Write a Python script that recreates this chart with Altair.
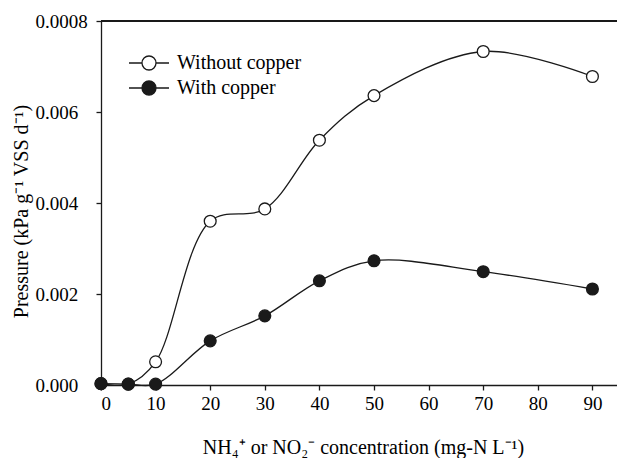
import altair as alt
import pandas as pd

# ---- data ----
x_vals = [0, 5, 10, 20, 30, 40, 50, 70, 90]
without_copper = [0.00003, 0.00002, 0.00051, 0.00360, 0.00387, 0.00538, 0.00636, 0.00733, 0.00678]
with_copper = [0.00003, 0.00002, 0.00002, 0.00097, 0.00152, 0.00229, 0.00273, 0.00249, 0.00211]
series_names = ["Without copper", "With copper"]
series_fill = ["white", "#1a1a1a"]
x_ticks = [0, 10, 20, 30, 40, 50, 60, 70, 80, 90]
y_ticks = [0.0, 0.002, 0.004, 0.006, 0.008]

rows = []
for name, vals in zip(series_names, [without_copper, with_copper]):
    for i, (x, y) in enumerate(zip(x_vals, vals)):
        rows.append({"conc": x, "pressure": y, "series": name, "order": i})
df = pd.DataFrame(rows)

FONT = "Liberation Serif"
W, H = 516, 364

x_enc = alt.X(
    "conc:Q",
    scale=alt.Scale(domain=[0, 94.5], nice=False, zero=False),
    axis=alt.Axis(
        values=x_ticks,
        title="NH\u2084\u207a or NO\u2082\u207b concentration (mg-N L\u207b\u00b9)",
        titlePadding=24,
        titleX=W / 2 + 4,
    ),
)
y_enc = alt.Y(
    "pressure:Q",
    scale=alt.Scale(domain=[0, 0.008], nice=False),
    axis=alt.Axis(
        values=y_ticks,
        labelExpr="datum.value >= 0.0079 ? '0.0008' : format(datum.value, '.3f')",
        labelAlign="left",
        labelPadding=61,
        title="Pressure (kPa g\u207b\u00b9 VSS d\u207b\u00b9)",
        titleX=-70,
        titleY=H / 2 + 8,
    ),
)

legend_path = (
    "M-2.5,0L-0.875,0M0.875,0L2.5,0"
    "M-0.875,0A0.875,0.875,0,1,0,0.875,0A0.875,0.875,0,1,0,-0.875,0Z"
)

lines = alt.Chart(df).mark_line(
    interpolate="catmull-rom", color="#1a1a1a", strokeWidth=1.3
).encode(
    x=x_enc, y=y_enc, detail="series:N", order="order:Q"
)

points = alt.Chart(df).mark_point(
    shape="circle", size=140, stroke="#1a1a1a", strokeWidth=1.3, opacity=1, fillOpacity=1
).encode(
    x="conc:Q",
    y="pressure:Q",
    fill=alt.Fill(
        "series:N",
        scale=alt.Scale(domain=series_names, range=series_fill),
        legend=alt.Legend(
            orient="none",
            legendX=38,
            legendY=32,
            title=None,
            symbolType=legend_path,
            symbolSize=256,
            symbolStrokeColor="#1a1a1a",
            symbolStrokeWidth=1.3,
            labelFont=FONT,
            labelFontSize=20,
            labelColor="black",
            labelOffset=18,
            rowPadding=5,
            padding=0,
        ),
    ),
)

top_border = alt.Chart(df).mark_rule(color="#1a1a1a", strokeWidth=1.3).encode(
    y=alt.datum(0.008), x=alt.value(0), x2=alt.value(W)
)

chart = (
    alt.layer(top_border, lines, points)
    .properties(
        width=W,
        height=H,
        autosize=alt.AutoSizeParams(type="none"),
        padding={"left": 101, "top": 21, "right": 0, "bottom": 73},
        background="white",
    )
    .configure_view(stroke=None)
    .configure_axis(
        grid=False,
        domainColor="#1a1a1a",
        domainWidth=1.3,
        tickColor="#1a1a1a",
        tickWidth=1.3,
        tickSize=5,
        labelFont=FONT,
        labelFontSize=19,
        labelColor="black",
        labelPadding=4,
        titleFont=FONT,
        titleFontSize=20,
        titleFontWeight="normal",
        titleColor="black",
    )
)

chart.save("out.html", embed_options={"renderer": "svg", "actions": False})
